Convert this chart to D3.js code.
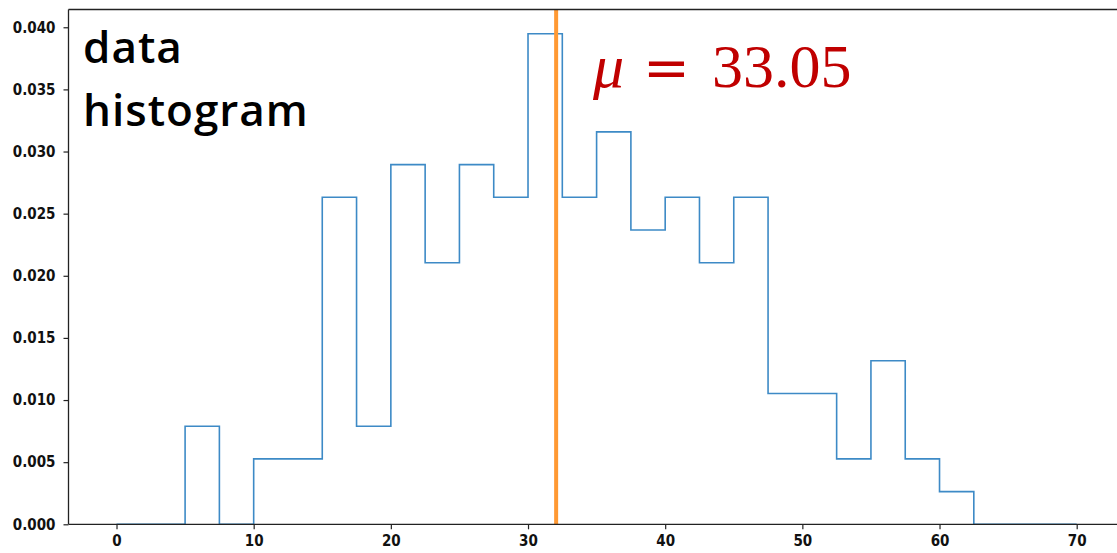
<!DOCTYPE html>
<html>
<head>
<meta charset="utf-8">
<script src="https://cdn.jsdelivr.net/npm/d3@7/dist/d3.min.js"></script>
<style>
  html, body { margin: 0; padding: 0; background: #fff; }
  svg { display: block; }
</style>
</head>
<body>
<svg id="chart" width="1117" height="553"></svg>
<script>
// ---- data ----
const binStart = 0;
const binWidth = 2.5;
const binCounts = [0, 0, 3, 0, 2, 2, 10, 3, 11, 8, 11, 10, 15, 10, 12, 9, 10, 8, 10, 4, 4, 2, 5, 2, 1, 0, 0, 0];
const totalCount = 152;
const meanLine = 32.05;
const meanLabel = "33.05";
const xTicks = [0, 10, 20, 30, 40, 50, 60, 70];
const yTicks = [0, 0.005, 0.01, 0.015, 0.02, 0.025, 0.03, 0.035, 0.04];
const titleLines = ["data", "histogram"];

// ---- layout ----
const svg = d3.select("#chart");
const x = d3.scaleLinear().domain([-3.5, 73.5]).range([68.5, 1124.7]);
const y = d3.scaleLinear().domain([0, 0.04143]).range([524.3, 9.5]);

const density = binCounts.map(c => c / (totalCount * binWidth));
const edges = binCounts.map((_, i) => binStart + i * binWidth);
edges.push(binStart + binCounts.length * binWidth);

// step path
const pts = [[edges[0], 0]];
density.forEach((d, i) => { pts.push([edges[i], d]); pts.push([edges[i + 1], d]); });
pts.push([edges[edges.length - 1], 0]);
const line = d3.line().x(d => x(d[0])).y(d => y(d[1]));

svg.append("path")
  .attr("d", line(pts))
  .attr("fill", "none")
  .attr("stroke", "#3d8ac6")
  .attr("stroke-width", 1.6)
  .attr("stroke-linejoin", "miter");

// mean line
svg.append("line")
  .attr("x1", x(meanLine)).attr("x2", x(meanLine))
  .attr("y1", y.range()[1]).attr("y2", y.range()[0])
  .attr("stroke", "#ff9933")
  .attr("stroke-width", 4);

// axes
const tickFont = "'DejaVu Sans Condensed', 'DejaVu Sans', sans-serif";
const xAxis = d3.axisBottom(x).tickValues(xTicks).tickFormat(d3.format("d")).tickSize(5).tickPadding(6);
const yAxis = d3.axisLeft(y).tickValues(yTicks).tickFormat(d3.format(".3f")).tickSize(5).tickPadding(8);

const gx = svg.append("g").attr("transform", `translate(0,${y(0)})`).call(xAxis);
const gy = svg.append("g").attr("transform", `translate(${x.range()[0]},0)`).call(yAxis);
[gx, gy].forEach(g => {
  g.select(".domain").remove();
  g.selectAll(".tick line").attr("stroke", "#222").attr("stroke-width", 1.2);
  g.selectAll(".tick text")
    .attr("fill", "#111")
    .style("font-family", tickFont)
    .style("font-stretch", "condensed")
    .style("font-size", "15px")
    .style("font-weight", "bold");
});

// spines (left, top, bottom)
const [x0, x1] = x.range();
const [yb, yt] = y.range();
svg.append("path")
  .attr("d", `M${x0},${yb}H${x1}M${x0},${yb}V${yt}M${x0},${yt}H${x1}`)
  .attr("fill", "none").attr("stroke", "#222").attr("stroke-width", 1.3);

// title text
const t = svg.append("text")
  .attr("x", 83).attr("y", 63)
  .style("font-family", "'Open Sans', 'Noto Sans', sans-serif")
  .style("font-size", "44px")
  .style("font-weight", 600)
  .style("letter-spacing", "1px")
  .attr("fill", "#000");
titleLines.forEach((s, i) => t.append("tspan").attr("x", 83).attr("dy", i === 0 ? 0 : 63).text(s));

// mu label
const mu = svg.append("text")
  .attr("y", 87)
  .style("font-family", "'Liberation Serif', 'DejaVu Serif', serif")
  .style("font-size", "62px")
  .attr("fill", "#c00000");
mu.append("tspan").attr("x", 593).style("font-style", "italic").text("μ");
mu.append("tspan").attr("x", 643)
  .style("font-family", "'DejaVu Serif', serif")
  .style("font-size", "56px")
  .text("=");
mu.append("tspan").attr("x", 712)
  .style("font-family", "'Liberation Serif', serif")
  .style("font-size", "62px")
  .text(meanLabel);
</script>
</body>
</html>
